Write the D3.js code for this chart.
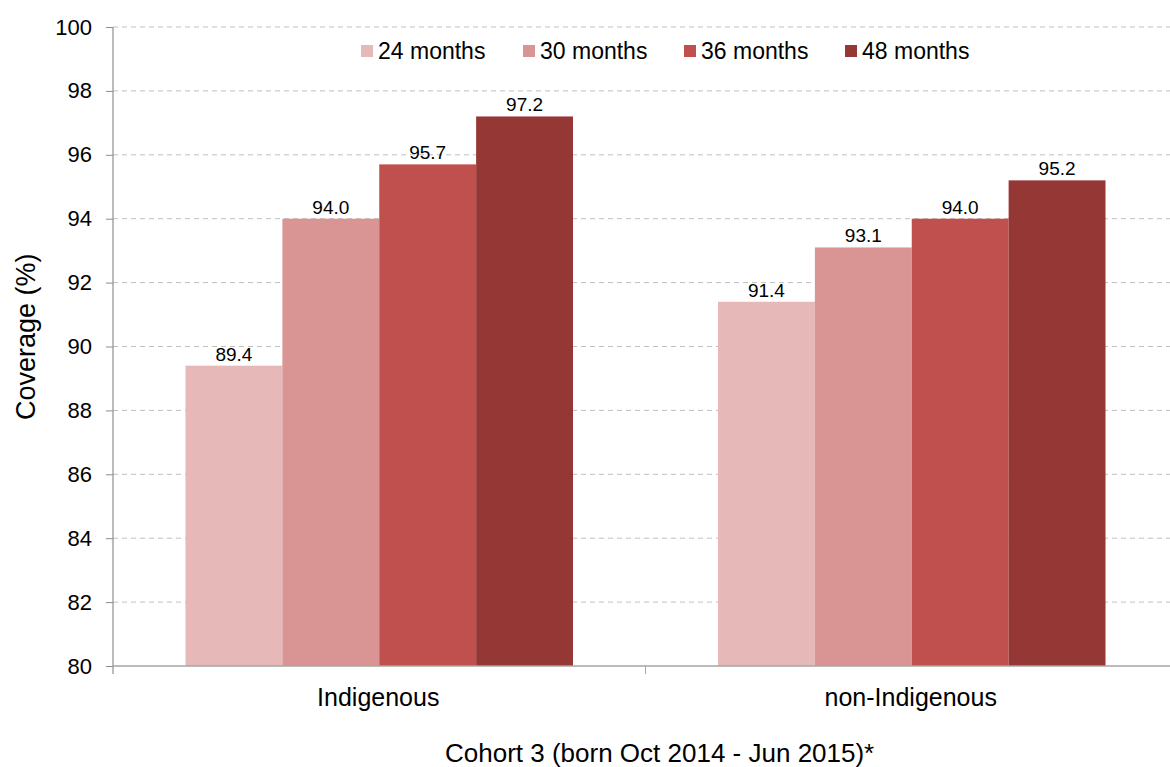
<!DOCTYPE html>
<html>
<head>
<meta charset="utf-8">
<script src="https://cdn.jsdelivr.net/npm/d3@7"></script>
<style>
  html, body { margin: 0; padding: 0; background: #fff; }
  svg { display: block; font-family: "Liberation Sans", Arial, sans-serif; }
</style>
</head>
<body>
<svg id="chart" width="1170" height="767"></svg>
<script>
// Coverage by age milestone for each population group
const groups = ["Indigenous", "non-Indigenous"];
const seriesNames = ["24 months", "30 months", "36 months", "48 months"];
const indigenousValues = [89.4, 94.0, 95.7, 97.2];
const nonIndigenousValues = [91.4, 93.1, 94.0, 95.2];
const seriesColors = ["#E6B9B8", "#D99594", "#C0504D", "#953735"];
const yTicks = [80, 82, 84, 86, 88, 90, 92, 94, 96, 98, 100];
const yTitle = "Coverage  (%)";
const xTitle = "Cohort 3 (born Oct 2014 - Jun 2015)*";

const valuesByGroup = [indigenousValues, nonIndigenousValues];

const svg = d3.select("#chart");
const plotLeft = 113, plotRight = 1178, plotTop = 27, plotBottom = 666;

const x = d3.scaleBand().domain(groups).range([plotLeft, plotRight]).paddingInner(0).paddingOuter(0);
const groupInset = 72.5;
const xs = d3.scaleBand().domain(seriesNames)
  .range([groupInset, x.bandwidth() - groupInset]).padding(0);
const y = d3.scaleLinear().domain([80, 100]).range([plotBottom, plotTop]);

// Horizontal dashed gridlines
svg.append("g")
  .selectAll("line")
  .data(yTicks.filter(d => d > 80))
  .join("line")
  .attr("x1", plotLeft).attr("x2", 1170)
  .attr("y1", d => y(d)).attr("y2", d => y(d))
  .attr("stroke", "#bfbfbf").attr("stroke-width", 1)
  .attr("stroke-dasharray", "5,4");

// Bars
const gGroups = svg.append("g")
  .selectAll("g")
  .data(groups.map((g, i) => ({ g, vals: valuesByGroup[i] })))
  .join("g")
  .attr("transform", d => `translate(${x(d.g)},0)`);

gGroups.selectAll("rect")
  .data(d => d.vals.map((v, j) => ({ s: seriesNames[j], v, j })))
  .join("rect")
  .attr("x", d => xs(d.s))
  .attr("width", xs.bandwidth())
  .attr("y", d => y(d.v))
  .attr("height", d => y(80) - y(d.v))
  .attr("fill", d => seriesColors[d.j]);

gGroups.selectAll("text")
  .data(d => d.vals.map((v, j) => ({ s: seriesNames[j], v, j })))
  .join("text")
  .attr("x", d => xs(d.s) + xs.bandwidth() / 2)
  .attr("y", d => y(d.v) - 5)
  .attr("text-anchor", "middle")
  .attr("font-size", 19)
  .attr("fill", "#000")
  .text(d => d.v.toFixed(1));

// Y axis
const yAxis = d3.axisLeft(y).tickValues(yTicks).tickSize(7).tickPadding(14).tickFormat(d3.format("d"));
const gy = svg.append("g").attr("transform", `translate(${plotLeft},0)`).call(yAxis);
gy.select(".domain").attr("stroke", "#a6a6a6").attr("stroke-width", 1.5)
  .attr("d", `M0,${plotTop}V${plotBottom + 8}`);
gy.selectAll(".tick line").attr("stroke", "#8c8c8c");
gy.selectAll(".tick text").attr("font-size", 22).attr("fill", "#000")
  .attr("font-family", "'Liberation Sans', Arial, sans-serif");

// X axis line with boundary ticks
svg.append("line")
  .attr("x1", plotLeft).attr("x2", 1170)
  .attr("y1", plotBottom).attr("y2", plotBottom)
  .attr("stroke", "#a6a6a6").attr("stroke-width", 1.5);
svg.append("g").selectAll("line")
  .data(groups.slice(1))
  .join("line")
  .attr("x1", d => x(d)).attr("x2", d => x(d))
  .attr("y1", plotBottom).attr("y2", plotBottom + 8)
  .attr("stroke", "#a6a6a6").attr("stroke-width", 1);

// Category labels
svg.append("g").selectAll("text")
  .data(groups)
  .join("text")
  .attr("x", d => x(d) + x.bandwidth() / 2 - 1)
  .attr("y", 706)
  .attr("text-anchor", "middle")
  .attr("font-size", 25)
  .text(d => d);

// Axis titles
svg.append("text")
  .attr("transform", "translate(35,420) rotate(-90)")
  .attr("text-anchor", "start")
  .attr("font-size", 27)
  .text(yTitle);

svg.append("text")
  .attr("x", 445).attr("y", 762)
  .attr("text-anchor", "start")
  .attr("font-size", 26)
  .text(xTitle);

// Legend
const legendX = [361, 523, 684, 845];
const legend = svg.append("g").selectAll("g")
  .data(seriesNames)
  .join("g")
  .attr("transform", (d, i) => `translate(${legendX[i]},45)`);
legend.append("rect")
  .attr("width", 12).attr("height", 12)
  .attr("fill", (d, i) => seriesColors[i]);
legend.append("text")
  .attr("x", 17).attr("y", 14)
  .attr("font-size", 23)
  .text(d => d);
</script>
</body>
</html>
